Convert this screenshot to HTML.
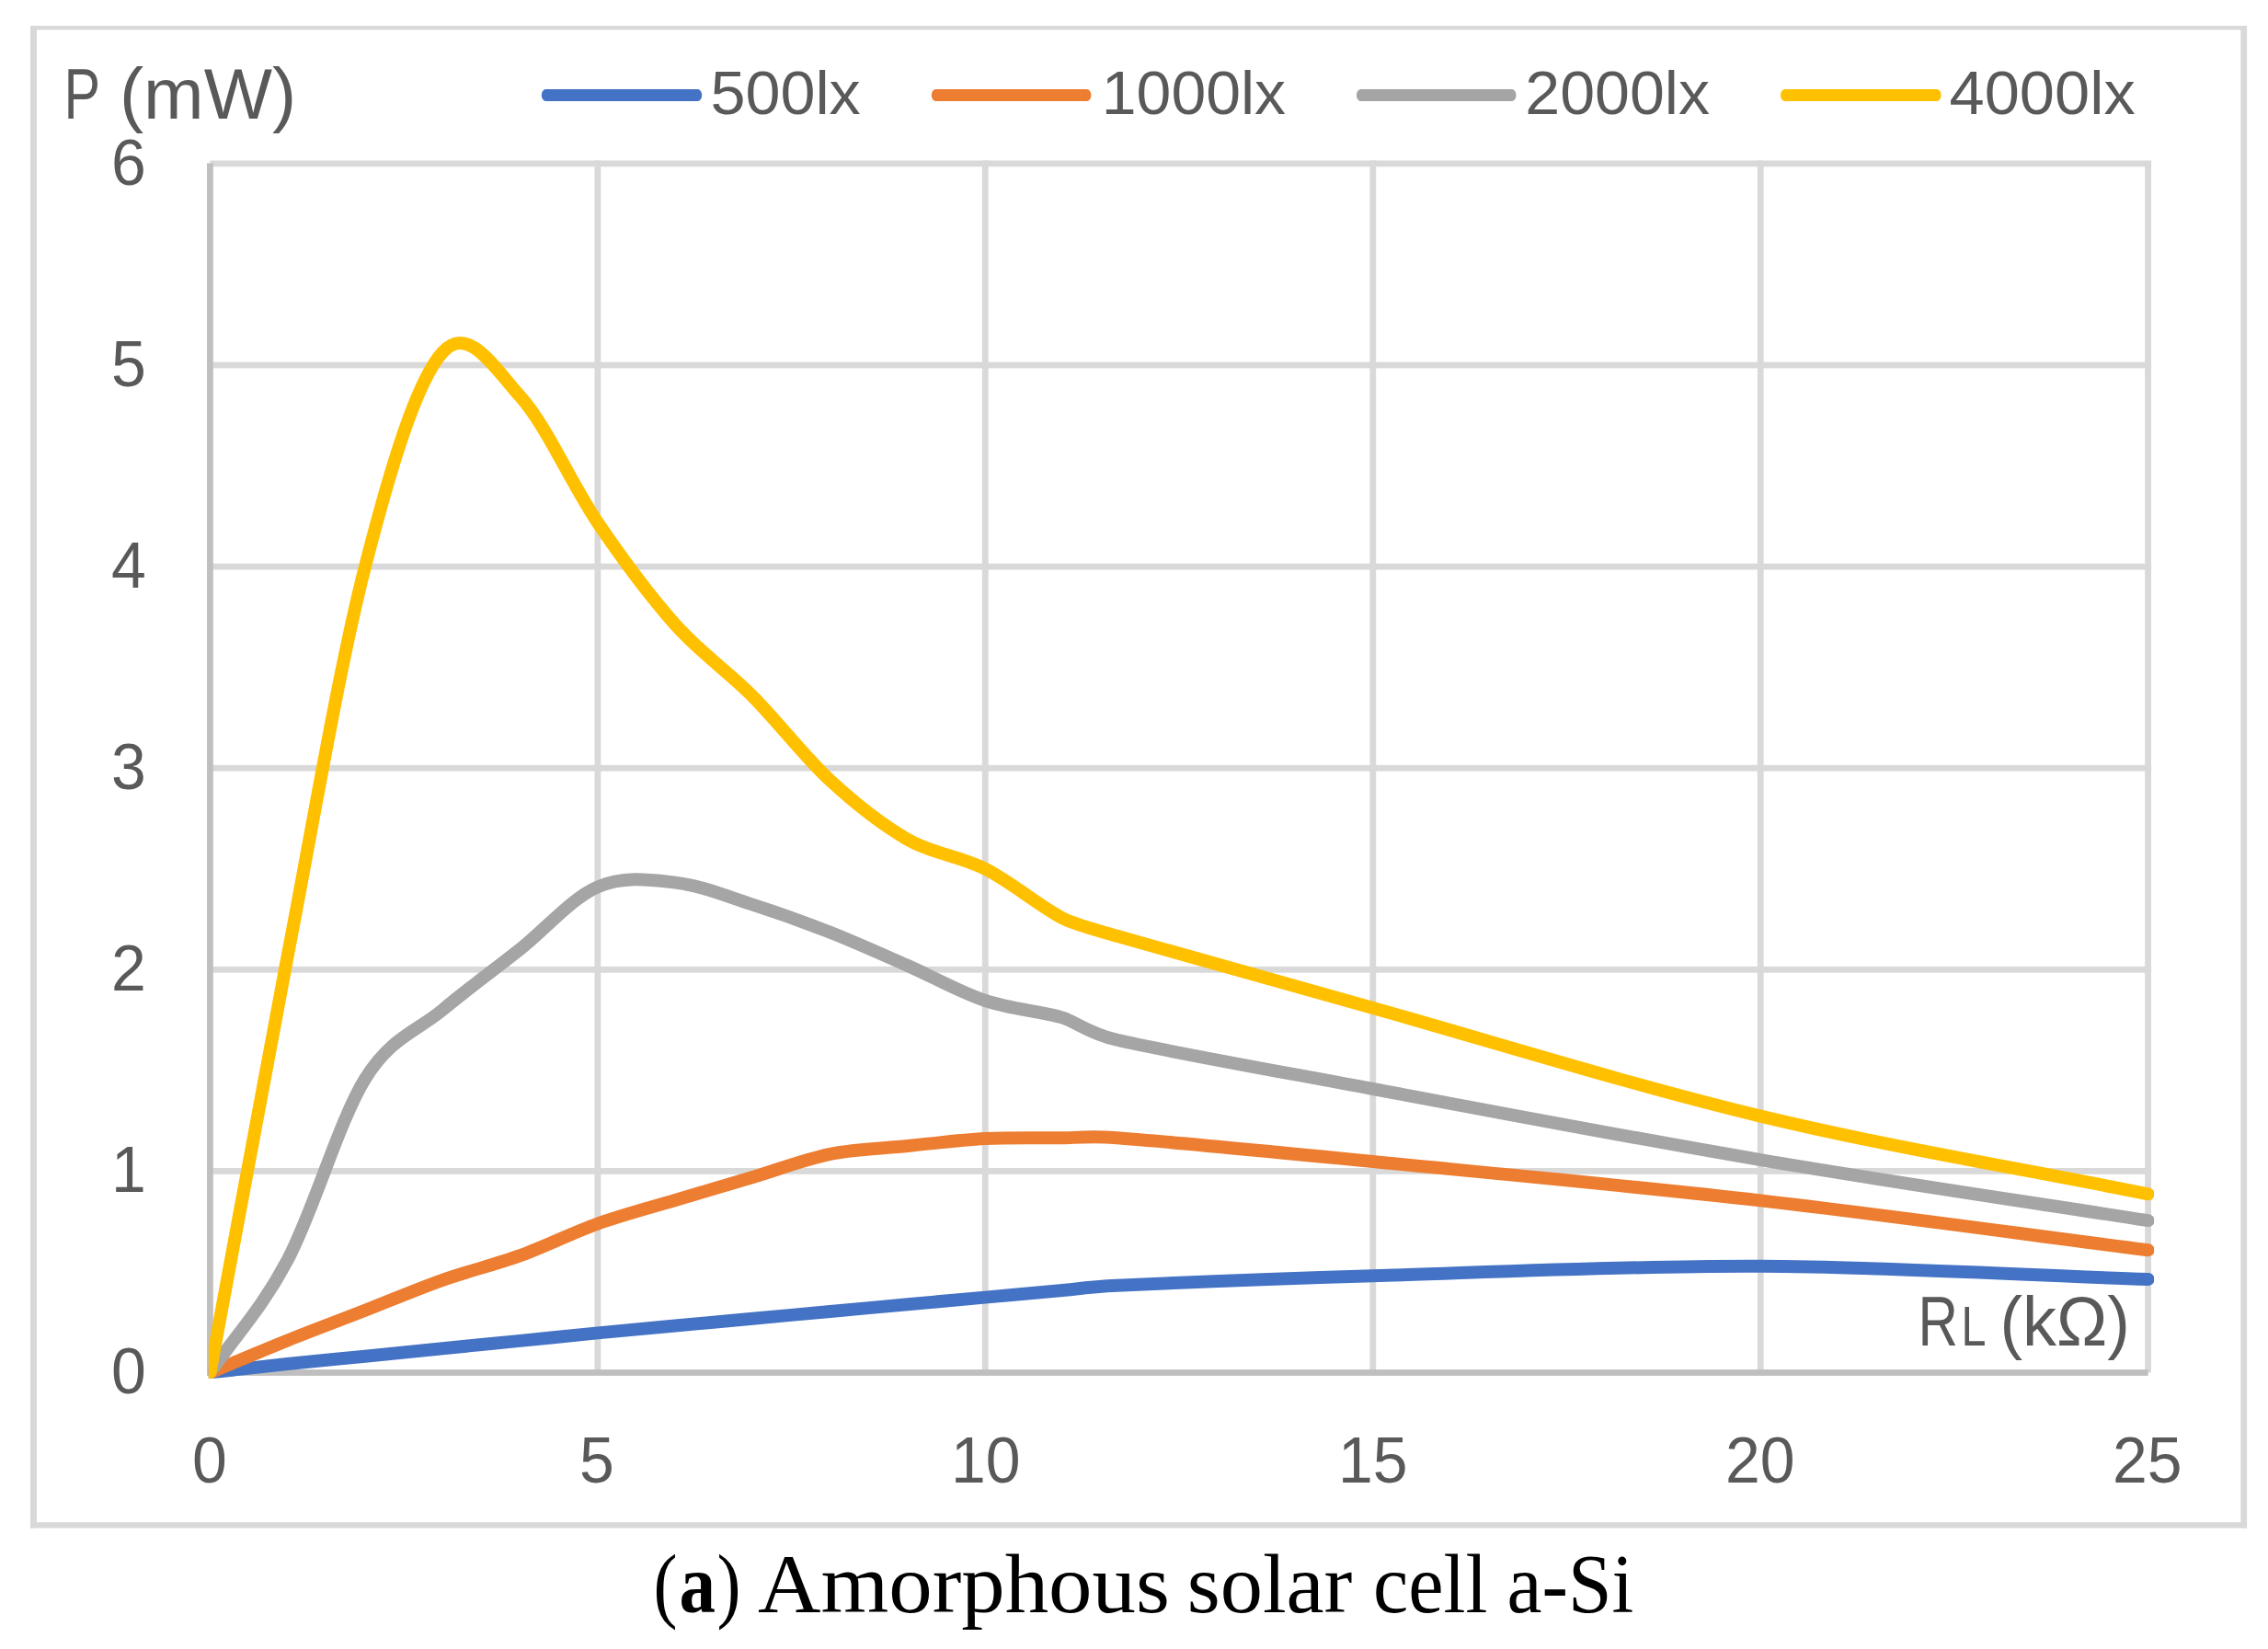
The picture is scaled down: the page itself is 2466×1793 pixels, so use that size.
<!DOCTYPE html>
<html lang="en"><head><meta charset="utf-8"><title>Amorphous solar cell a-Si</title>
<style>html,body{margin:0;padding:0;background:#fff}body{width:2466px;height:1793px;overflow:hidden}svg{display:block}.s{font-family:"Liberation Sans",sans-serif;fill:#595959}.c{font-family:"Liberation Serif",serif;fill:#000}</style></head><body>
<svg width="2466" height="1793" viewBox="0 0 2466 1793">
<rect width="2466" height="1793" fill="#fff"/>
<g fill="#d9d9d9">
<rect x="33" y="28" width="2410" height="4.5"/>
<rect x="33" y="28" width="7" height="1633.5"/>
<rect x="2436.3" y="28" width="6.8" height="1633.5"/>
<rect x="33" y="1655.2" width="2410" height="6.3"/>
</g>
<g fill="#d9d9d9">
<rect x="228.4" y="1270.0" width="2110.7" height="6.8"/>
<rect x="228.4" y="1050.9" width="2110.7" height="6.8"/>
<rect x="228.4" y="831.8" width="2110.7" height="6.8"/>
<rect x="228.4" y="612.7" width="2110.7" height="6.8"/>
<rect x="228.4" y="393.6" width="2110.7" height="6.8"/>
<rect x="228.4" y="174.5" width="2110.7" height="6.8"/>
<rect x="646.5" y="174.5" width="6.8" height="1318.0"/>
<rect x="1067.9" y="174.5" width="6.8" height="1318.0"/>
<rect x="1489.4" y="174.5" width="6.8" height="1318.0"/>
<rect x="1910.8" y="174.5" width="6.8" height="1318.0"/>
<rect x="2332.2" y="177.5" width="6.8" height="1315.0"/>
</g>
<g fill="#bfbfbf">
<rect x="225.0" y="177.4" width="6.8" height="1315.1"/>
<rect x="225.0" y="1489.1" width="2110.7" height="6.8"/>
</g>
<defs><clipPath id="pc"><rect x="226.9" y="160" width="2115.2" height="1338.8"/></clipPath></defs>
<g clip-path="url(#pc)" fill="none" stroke-width="14" stroke-linecap="round" stroke-linejoin="round">
<path stroke="#4472c4" d="M228.4 1492.5C256.5 1489.3 284.6 1486.0 312.7 1483.0C340.8 1480.0 368.9 1477.5 397.0 1474.7C425.1 1471.9 453.2 1469.0 481.3 1466.2C509.4 1463.4 537.5 1460.7 565.6 1457.9C593.7 1455.1 621.8 1452.1 649.9 1449.4C677.9 1446.7 706.0 1444.1 734.1 1441.5C762.2 1438.9 790.3 1436.3 818.4 1433.7C846.5 1431.1 874.6 1428.6 902.7 1426.0C930.8 1423.4 958.9 1420.9 987.0 1418.3C1015.1 1415.7 1043.2 1413.1 1071.3 1410.6C1099.4 1408.0 1131.7 1405.1 1155.6 1403.0C1168.2 1401.9 1185.0 1399.2 1214.6 1397.8C1270.8 1395.2 1376.1 1390.8 1492.8 1387.3C1609.4 1383.8 1773.7 1376.1 1914.2 1376.8C2054.7 1377.4 2195.2 1386.2 2335.7 1391.0"/>
<path stroke="#ed7d31" d="M228.4 1492.5C256.5 1480.8 284.6 1468.8 312.7 1457.5C340.8 1446.2 368.9 1435.8 397.0 1424.8C425.1 1413.8 453.2 1401.7 481.3 1391.8C509.4 1381.9 537.5 1375.4 565.6 1365.2C593.7 1355.0 621.8 1340.6 649.9 1330.6C677.9 1320.6 706.0 1313.4 734.1 1305.0C762.2 1296.6 790.3 1288.4 818.4 1280.0C846.5 1271.6 874.6 1260.5 902.7 1254.8C930.8 1249.1 958.9 1248.8 987.0 1246.0C1015.1 1243.2 1043.2 1239.5 1071.3 1238.0C1099.4 1236.5 1131.7 1237.4 1155.6 1237.3C1168.1 1237.2 1185.2 1235.0 1214.6 1237.2C1270.8 1241.5 1376.1 1251.6 1492.8 1263.0C1609.4 1274.4 1773.7 1289.4 1914.2 1305.4C2054.7 1321.5 2195.2 1341.3 2335.7 1359.3"/>
<path stroke="#a5a5a5" d="M228.4 1492.5C256.5 1451.7 284.6 1423.2 312.7 1370.0C340.8 1316.8 368.9 1218.3 397.0 1173.0C425.1 1127.7 453.2 1121.5 481.3 1098.0C509.4 1074.5 537.5 1054.3 565.6 1032.0C593.7 1009.7 621.8 976.5 649.9 964.4C677.9 952.3 706.0 956.4 734.1 959.6C762.2 962.8 790.3 974.6 818.4 983.6C846.5 992.6 874.6 1002.7 902.7 1013.8C930.8 1024.9 958.9 1037.6 987.0 1050.0C1015.1 1062.4 1043.2 1078.6 1071.3 1088.0C1099.4 1097.4 1131.7 1099.5 1155.6 1106.6C1168.8 1110.5 1183.5 1123.7 1214.6 1130.8C1270.8 1143.7 1376.1 1162.3 1492.8 1184.0C1609.4 1205.7 1773.7 1237.2 1914.2 1261.1C2054.7 1285.0 2195.2 1305.2 2335.7 1327.2"/>
<path stroke="#ffc000" d="M228.4 1492.5C256.5 1341.5 284.6 1185.5 312.7 1039.4C340.8 893.3 368.9 725.4 397.0 616.0C425.1 506.6 453.2 413.8 481.3 383.0C509.4 352.2 537.5 400.1 565.6 431.0C593.7 461.9 621.8 527.0 649.9 568.3C677.9 609.6 706.0 647.5 734.1 679.0C762.2 710.5 790.3 728.9 818.4 757.2C846.5 785.5 874.6 822.8 902.7 848.7C930.8 874.6 958.9 896.8 987.0 912.8C1015.1 928.8 1043.2 930.5 1071.3 944.8C1099.4 959.1 1131.7 986.3 1155.6 998.5C1168.3 1005.0 1184.8 1009.2 1214.6 1017.8C1270.8 1034.0 1376.1 1063.4 1492.8 1096.0C1609.4 1128.6 1773.7 1179.9 1914.2 1213.6C2054.7 1247.3 2195.2 1270.1 2335.7 1298.3"/>
</g>
<rect fill="#4472c4" x="588.8" y="97.0" width="174.4" height="12.9" rx="4.5" ry="6.45"/>
<rect fill="#ed7d31" x="1012.8" y="97.0" width="173.6" height="12.9" rx="4.5" ry="6.45"/>
<rect fill="#a5a5a5" x="1474.9" y="97.0" width="173.6" height="12.9" rx="4.5" ry="6.45"/>
<rect fill="#ffc000" x="1936.0" y="97.0" width="174.6" height="12.9" rx="4.5" ry="6.45"/>
<text class="s" y="129.2" font-size="77.0"><tspan x="69.5" textLength="38.5" lengthAdjust="spacingAndGlyphs">P</tspan><tspan> </tspan><tspan x="129.9" textLength="192.3" lengthAdjust="spacingAndGlyphs">(mW)</tspan></text>
<text class="s" x="772.4" y="124.2" font-size="66.0" textLength="163.4" lengthAdjust="spacingAndGlyphs">500lx</text>
<text class="s" x="1197.8" y="124.2" font-size="66.0" textLength="200.3" lengthAdjust="spacingAndGlyphs">1000lx</text>
<text class="s" x="1658.3" y="124.2" font-size="66.0" textLength="200.7" lengthAdjust="spacingAndGlyphs">2000lx</text>
<text class="s" x="2119.6" y="124.2" font-size="66.0" textLength="202.1" lengthAdjust="spacingAndGlyphs">4000lx</text>
<text class="s" x="121.0" y="200.6" font-size="70.0" textLength="37.8" lengthAdjust="spacingAndGlyphs">6</text>
<text class="s" x="121.0" y="419.6" font-size="70.0" textLength="37.8" lengthAdjust="spacingAndGlyphs">5</text>
<text class="s" x="121.0" y="638.6" font-size="70.0" textLength="37.8" lengthAdjust="spacingAndGlyphs">4</text>
<text class="s" x="121.0" y="857.6" font-size="70.0" textLength="37.8" lengthAdjust="spacingAndGlyphs">3</text>
<text class="s" x="121.0" y="1076.5" font-size="70.0" textLength="37.8" lengthAdjust="spacingAndGlyphs">2</text>
<text class="s" x="121.0" y="1295.5" font-size="70.0" textLength="37.8" lengthAdjust="spacingAndGlyphs">1</text>
<text class="s" x="121.0" y="1514.5" font-size="70.0" textLength="37.8" lengthAdjust="spacingAndGlyphs">0</text>
<text class="s" x="209.0" y="1612.0" font-size="70.0" textLength="37.8" lengthAdjust="spacingAndGlyphs">0</text>
<text class="s" x="630.0" y="1612.0" font-size="70.0" textLength="37.8" lengthAdjust="spacingAndGlyphs">5</text>
<text class="s" x="1034.0" y="1612.0" font-size="70.0" textLength="75.6" lengthAdjust="spacingAndGlyphs">10</text>
<text class="s" x="1455.0" y="1612.0" font-size="70.0" textLength="75.6" lengthAdjust="spacingAndGlyphs">15</text>
<text class="s" x="1876.0" y="1612.0" font-size="70.0" textLength="75.6" lengthAdjust="spacingAndGlyphs">20</text>
<text class="s" x="2297.0" y="1612.0" font-size="70.0" textLength="75.6" lengthAdjust="spacingAndGlyphs">25</text>
<text class="s" y="1462.5" font-size="76.5"><tspan x="2085.5" textLength="43.5" lengthAdjust="spacingAndGlyphs">R</tspan><tspan x="2132.5" font-size="61.0" textLength="27.0" lengthAdjust="spacingAndGlyphs">L</tspan><tspan> </tspan><tspan x="2174.5" textLength="141.5" lengthAdjust="spacingAndGlyphs">(kΩ)</tspan></text>
<text class="c" y="1753.2" font-size="90.0"><tspan x="710.5" textLength="26.0" lengthAdjust="spacingAndGlyphs">(</tspan><tspan x="738.5" font-weight="bold" textLength="39.5" lengthAdjust="spacingAndGlyphs">a</tspan><tspan x="779.5" textLength="26.0" lengthAdjust="spacingAndGlyphs">)</tspan><tspan> </tspan><tspan x="824.0" textLength="447.8" lengthAdjust="spacingAndGlyphs">Amorphous</tspan><tspan> </tspan><tspan x="1290.7" textLength="179.7" lengthAdjust="spacingAndGlyphs">solar</tspan><tspan> </tspan><tspan x="1493.0" textLength="124.5" lengthAdjust="spacingAndGlyphs">cell</tspan><tspan> </tspan><tspan x="1638.5" textLength="137.7" lengthAdjust="spacingAndGlyphs">a-Si</tspan></text>
</svg></body></html>
